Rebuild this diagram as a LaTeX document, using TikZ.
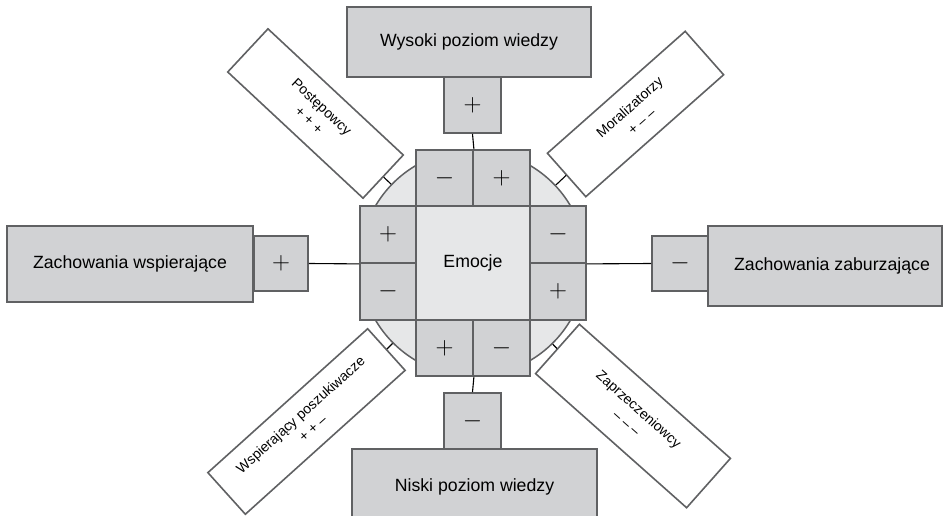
\documentclass[tikz,border=0pt]{standalone}
\usepackage[no-math]{fontspec}
\setmainfont{Liberation Sans}
\definecolor{boxfill}{HTML}{D1D2D4}
\definecolor{corefill}{HTML}{E6E7E8}
\definecolor{edge}{HTML}{606163}
\tikzset{
  gbox/.style={draw=edge, fill=boxfill, line width=1.8pt, inner sep=0pt},
  sq/.style={gbox, minimum width=57pt, minimum height=57pt, font=\fontsize{25}{25}\selectfont},
  big/.style={gbox, font=\fontsize{17.7}{20}\selectfont},
  dbox/.style={draw=edge, fill=white, line width=1.6pt, inner sep=0pt, align=center,
    font=\fontsize{14}{18.5}\selectfont},
  link/.style={draw=black, line width=1.1pt},
}
\begin{document}
\begin{tikzpicture}[x=1pt, y=-1pt]
\useasboundingbox (0,0) rectangle (946,516);

% central disc and core
\node[circle, draw=edge, fill=corefill, line width=1.5pt, minimum size=226pt, inner sep=0pt] (circ) at (473,263) {};
\node[gbox, fill=corefill, minimum width=114pt, minimum height=114pt, font=\fontsize{17.7}{20}\selectfont] (emo) at (473,263) {Emocje};

% sign squares around the core
\node[sq, minimum height=56pt] (t1) at (444.5,178) {$-$};
\node[sq, minimum height=56pt] (t2) at (501.5,178) {$+$};
\node[sq, minimum width=56pt] (l1) at (388,234.5) {$+$};
\node[sq, minimum width=56pt] (l2) at (388,291.5) {$-$};
\node[sq, minimum width=56pt] (r1) at (558,234.5) {$-$};
\node[sq, minimum width=56pt] (r2) at (558,291.5) {$+$};
\node[sq, minimum height=56pt] (b1) at (444.5,348) {$+$};
\node[sq, minimum height=56pt] (b2) at (501.5,348) {$-$};

% outer sign squares
\node[sq, minimum height=56pt] (tp) at (472.5,105) {$+$};
\node[sq, minimum height=56pt] (bm) at (472.5,421) {$-$};
\node[sq, minimum width=54pt, minimum height=55pt] (lp) at (281,263.5) {$+$};
\node[sq, minimum width=56pt, minimum height=55pt] (rm) at (680,263.5) {$-$};

% outer category boxes
\node[big, minimum width=244pt, minimum height=70pt] (tbox) at (469,42) {Wysoki poziom wiedzy};
\node[big, minimum width=245pt, minimum height=75pt] (bbox) at (474.5,486.5) {Niski poziom wiedzy};
\node[big, minimum width=246pt, minimum height=76pt] (lbox) at (130,264) {Zachowania wspierające};
\node[big, minimum width=234pt, minimum height=80pt] (rbox) at (825,266) {\hspace*{14pt}Zachowania zaburzające};

% links between outer squares and the core squares
\draw[link] (tp.south) -- (t1.north east);
\draw[link] (bm.north) -- (b1.south east);
\draw[link] (lp.east) -- (l1.south west);
\draw[link] (rm.west) -- (r1.south east);

% diagonal type boxes
\node[dbox, minimum width=185pt, minimum height=59pt, rotate=-43] (pp) at (315.5,113.5) {Postępowcy\\+ + +};
\node[dbox, minimum width=184pt, minimum height=58pt, rotate=41.5] (mo) at (635.5,114) {Moralizatorzy\\+ – –};
\node[dbox, minimum width=215pt, minimum height=56pt, rotate=42] (ws) at (306.5,421.5) {Wspierający poszukiwacze\\+ + –};
\node[dbox, minimum width=202pt, minimum height=66pt, rotate=-41.6] (za) at (633,416) {Zaprzeczeniowcy\\– – –};

% ticks joining the diagonal boxes to the disc
\draw[link] (pp.east) -- (circ);
\draw[link] (mo.west) -- (circ);
\draw[link] (ws.east) -- (circ);
\draw[link] (za.west) -- (circ);
\end{tikzpicture}
\end{document}
